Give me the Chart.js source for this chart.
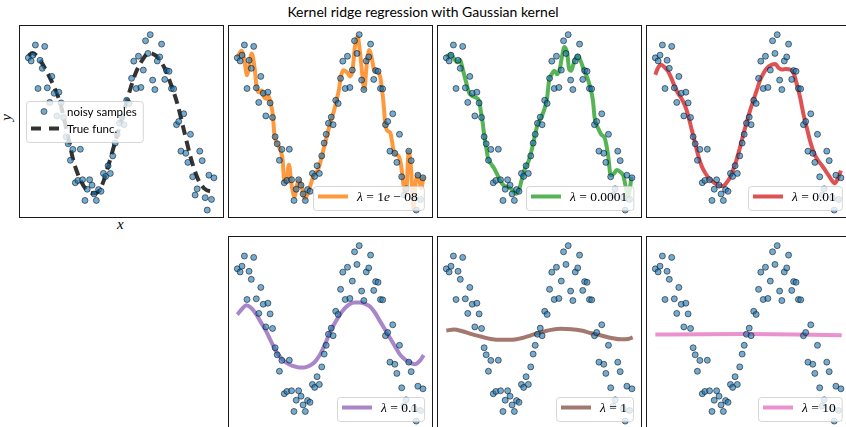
<!DOCTYPE html>
<html>
<head>
<meta charset="utf-8">
<script src="https://cdn.jsdelivr.net/npm/chart.js@4.4.1/dist/chart.umd.min.js"></script>
<style>
  html, body { margin: 0; padding: 0; background: #fff; }
  body { width: 846px; height: 427px; overflow: hidden; position: relative; font-family: Lato, sans-serif; }
  canvas { position: absolute; }
  #title { position: absolute; left: 0; top: 3px; width: 846px; text-align: center; font-size: 14px; color: #000; }
  .lab { position: absolute; font-family: "Liberation Serif", serif; font-style: italic; font-size: 15px; color: #000; }
</style>
</head>
<body>
<div id="title">Kernel ridge regression with Gaussian kernel</div>
<div class="lab" style="left:117px; top:216px;">x</div>
<div class="lab" style="left:3px; top:109px; transform: rotate(-90deg);">y</div>

<canvas id="p1" width="205" height="193" style="left:19px; top:25px;"></canvas>
<canvas id="p2" width="205" height="193" style="left:228px; top:25px;"></canvas>
<canvas id="p3" width="205" height="193" style="left:437px; top:25px;"></canvas>
<canvas id="p4" width="205" height="193" style="left:646px; top:25px;"></canvas>
<canvas id="p5" width="205" height="193" style="left:228px; top:236px;"></canvas>
<canvas id="p6" width="205" height="193" style="left:437px; top:236px;"></canvas>
<canvas id="p7" width="205" height="193" style="left:646px; top:236px;"></canvas>

<script>
// noisy samples (same in every panel)
const sampleX = [0, 1.5, 2.5, 3.8, 5.2, 6.3, 7.5, 8.8, 10.2, 11.5, 12.6, 13.9, 15.3, 16.4, 17.6, 18.9, 20.3, 21.4, 22.6, 23.9,
  25.2, 26.6, 27.9, 29.1, 30.4, 31.6, 32.9, 34.2, 35.3, 36.5, 37.7, 39.0, 40.3, 41.5, 42.8, 44.0, 45.3, 46.6, 47.7, 48.9,
  50.4, 51.4, 52.8, 54.1, 55.4, 56.6, 57.9, 59.1, 60.4, 61.7, 62.9, 64.2, 65.4, 66.7, 67.9, 69.2, 70.5, 71.5, 73.2, 74.2,
  75.5, 76.8, 78.0, 79.5, 80.7, 81.9, 83.4, 84.5, 85.6, 87.0, 88.2, 89.5, 90.6, 92.0, 93.3, 94.9, 96.0, 96.9, 98.3, 99.6];
const sampleY = [86.8, 85.0, 88.3, 94.1, 69.3, 85.4, 80.8, 93.3, 69.7, 61.4, 76.2, 66.6, 53.7, 67.2, 61.1, 52.8, 41.8, 37.8, 28.4, 34.6,
  15.6, 16.9, 34.7, 17.3, 5.5, 11.9, 17.3, 14.2, 9.2, 5.5, 11.7, 10.7, 20.9, 19.2, 25.3, 20.9, 30.9, 38.2, 43.2, 49.5,
  53.0, 48.7, 62.6, 60.8, 75.1, 84.9, 69.3, 87.7, 69.9, 79.8, 96.5, 89.3, 100, 74.1, 68.7, 85.0, 87.3, 94.6, 74.5, 79.5,
  79.1, 69.3, 69.1, 48.7, 50.5, 33.6, 54.9, 32.4, 27.2, 43.2, 19.0, 8.6, 12.1, 33.6, 28.2, 7.1, 0, 19.9, 6.1, 18.4];

// true function
const trueX = [0, 2.2, 6.3, 9.9, 13.5, 17.1, 21.6, 24.3, 27.9, 32.3, 36.0, 39.6, 43.1, 46.7, 50.4, 53.9, 57.5, 61.1, 64.7,
  69.2, 72.8, 76.4, 80.0, 83.6, 87.2, 90.8, 94.3, 99.7];
const trueY = [87.8, 89.6, 85.4, 78.9, 71.0, 61.0, 40.5, 27.8, 17.3, 10.5, 9.6, 14.4, 25.9, 39.3, 52.8, 66.2, 77.8, 85.4, 89.6,
  87.3, 81.6, 72.0, 60.5, 45.1, 29.7, 18.2, 12.4, 10.2];

// lambda = 1e-08
const fitAX = [0, 2.3, 3.8, 5.2, 6.3, 7.7, 9.2, 10.4, 11.7, 13.1, 14.4, 15.8, 16.7, 18.0, 19.0, 19.9, 21.2, 23.0, 24.3, 25.2,
  26.2, 27.7, 29.1, 30.7, 32.0, 33.2, 34.7, 36.1, 37.5, 39.4, 41.1, 43.3, 44.9, 46.7, 48.3, 49.9, 51.9, 53.4, 54.6, 55.5,
  57.0, 59.1, 60.6, 61.8, 63.1, 64.5, 65.9, 67.2, 68.1, 69.5, 70.8, 72.0, 73.5, 75.3, 76.7, 77.6, 78.5, 79.4, 80.7, 82.1,
  83.0, 83.9, 85.2, 86.6, 87.8, 89.3, 90.5, 92.0, 93.2, 94.5, 95.9, 97.2, 98.6, 100];
const fitAY = [86.9, 90.8, 85.4, 76.8, 81.6, 89.2, 81.6, 70.0, 67.2, 68.1, 64.3, 63.3, 65.3, 60.4, 54.7, 43.1, 38.4, 34.5, 28.7, 16.3,
  15.9, 25.9, 14.3, 7.7, 14.3, 17.2, 12.4, 6.7, 8.6, 14.7, 20.1, 23.0, 28.7, 36.5, 43.1, 49.9, 56.6, 63.3, 69.1, 75.8,
  79.7, 78.3, 76.2, 79.7, 93.1, 98.8, 89.2, 75.8, 69.1, 83.5, 91.2, 87.3, 79.7, 78.8, 75.8, 69.1, 60.4, 48.9, 45.1, 44.1,
  39.3, 33.6, 31.6, 30.7, 25.9, 13.4, 8.6, 33.6, 24.0, 0.9, 17.2, 20.1, 12.4, 19.2];

// lambda = 0.0001
const fitBX = [0, 2.3, 4.2, 5.9, 7.4, 8.6, 9.5, 10.9, 12.2, 14.0, 15.8, 17.6, 18.5, 19.4, 20.3, 21.2, 22.4, 23.9, 25.7, 27.5,
  29.3, 31.1, 33.2, 35.6, 37.4, 39.2, 40.4, 42.2, 44.0, 45.4, 47.2, 49.0, 50.8, 52.6, 54.1, 55.1, 56.6, 58.0, 59.5, 60.9,
  62.0, 63.4, 64.9, 65.9, 67.0, 68.3, 69.2, 70.6, 72.4, 73.9, 75.6, 77.5, 78.7, 79.6, 81.4, 83.2, 85.0, 86.8, 88.2, 90.0,
  91.4, 93.2, 95.0, 96.3, 97.6, 99.4];
const fitBY = [87.1, 89.0, 86.2, 84.2, 85.6, 81.3, 77.5, 71.8, 66.9, 65.0, 64.1, 62.2, 56.4, 50.6, 43.0, 37.2, 29.5, 26.6, 23.7, 19.9,
  16.1, 13.8, 13.2, 11.3, 9.3, 12.2, 17.1, 23.7, 27.6, 32.4, 41.0, 48.7, 52.5, 57.4, 64.1, 73.7, 77.5, 79.4, 77.5, 80.4,
  87.1, 92.9, 89.0, 80.4, 79.4, 83.6, 86.2, 88.1, 84.2, 79.4, 75.6, 68.9, 62.2, 52.5, 46.8, 43.0, 41.0, 31.4, 19.9, 20.9,
  22.8, 21.8, 19.5, 13.2, 8.0, 19.0];

// lambda = 0.01
const fitCX = [0, 1.4, 3.2, 5.0, 6.8, 8.6, 10.4, 12.2, 14.0, 15.8, 17.6, 19.4, 21.2, 23.0, 24.8, 26.6, 28.4, 30.2, 32.0, 34.7,
  36.5, 38.3, 40.1, 41.9, 43.7, 45.5, 47.3, 49.1, 50.9, 52.7, 54.5, 56.3, 58.1, 59.9, 62.6, 64.4, 66.2, 68.0, 70.1, 72.4,
  74.2, 76.0, 77.8, 79.6, 81.4, 83.2, 85.0, 86.8, 89.5, 91.3, 93.1, 94.9, 96.3, 97.8, 99.6];
const fitCY = [77.2, 81.0, 82.9, 81.4, 79.1, 75.2, 70.4, 66.6, 63.7, 59.9, 54.1, 46.4, 38.8, 31.1, 25.3, 21.5, 18.6, 16.7, 15.3, 13.8,
  13.8, 15.7, 18.6, 23.4, 29.1, 35.9, 43.5, 50.3, 57.0, 62.8, 68.5, 74.3, 78.1, 81.0, 82.9, 83.3, 81.0, 80.1, 80.4, 80.1,
  78.1, 71.4, 63.7, 54.1, 46.4, 38.8, 33.0, 29.1, 25.3, 22.5, 19.6, 16.7, 15.3, 17.6, 22.5];

// lambda = 0.1
const fitDX = [0, 2.7, 4.8, 7.2, 9.9, 12.6, 15.3, 17.9, 20.6, 23.3, 26.0, 29.6, 33.2, 35.9, 38.6, 41.3, 44.0, 46.7, 49.4, 52.1,
  54.8, 57.5, 60.2, 62.9, 65.6, 68.3, 71.0, 73.6, 76.3, 79.0, 81.7, 84.4, 87.1, 89.8, 92.5, 95.2, 97.9, 100];
const fitDY = [60.7, 64.1, 66.0, 64.7, 61.2, 56.4, 51.6, 45.9, 40.1, 36.2, 33.4, 31.5, 30.5, 30.5, 31.5, 33.4, 37.2, 43.0, 49.7, 55.5,
  60.3, 64.1, 66.6, 67.6, 67.6, 67.0, 65.4, 62.2, 57.4, 52.6, 47.8, 43.0, 38.2, 35.3, 33.4, 32.4, 34.3, 37.6];

// lambda = 1
const fitEX = [0, 4.1, 8.6, 13.1, 18.5, 23.9, 29.3, 34.7, 40.1, 45.4, 50.8, 56.2, 61.6, 67.0, 72.4, 77.8, 83.2, 88.6, 94.0, 97.6, 100];
const fitEY = [51.6, 52.2, 51.2, 49.7, 48.2, 46.8, 46.3, 46.3, 47.2, 48.9, 50.6, 52.0, 52.6, 52.4, 51.6, 50.1, 48.8, 47.4, 46.6, 46.8, 47.7];

// lambda = 10
const fitFX = [0, 25, 50, 75, 100];
const fitFY = [49.3, 49.5, 49.6, 49.4, 49.0];

const fonts = {
  sans: '11.5px Lato, sans-serif',
  it: 'italic 13.5px "Liberation Serif", serif',
  rm: '13.5px "Liberation Serif", serif',
};
const pointFill = 'rgba(31,119,180,0.62)';
const pointEdge = 'rgba(0,0,0,0.65)';

const roundRect = (ctx, x, y, w, h, r) => {
  ctx.beginPath();
  ctx.moveTo(x + r, y);
  ctx.lineTo(x + w - r, y);
  ctx.quadraticCurveTo(x + w, y, x + w, y + r);
  ctx.lineTo(x + w, y + h - r);
  ctx.quadraticCurveTo(x + w, y + h, x + w - r, y + h);
  ctx.lineTo(x + r, y + h);
  ctx.quadraticCurveTo(x, y + h, x, y + h - r);
  ctx.lineTo(x, y + r);
  ctx.quadraticCurveTo(x, y, x + r, y);
  ctx.closePath();
};

// legend box drawn inside the plot area, like matplotlib
const boxLegend = {
  id: 'boxLegend',
  afterDatasetsDraw(chart, args, opts) {
    const items = opts.items;
    if (!items || !items.length) return;
    const ctx = chart.ctx;
    const a = chart.chartArea;
    ctx.save();
    const widths = items.map((it) => it.text.reduce((w, p) => {
      ctx.font = fonts[p[1]];
      return w + ctx.measureText(p[0]).width;
    }, 0));
    const textOff = opts.textOff || 44;
    const w = textOff + Math.max(...widths) + 6;
    const h = 2 + items.length * 17 + 5;
    let x, y;
    if (opts.where === 'cl') {
      x = a.left + 7;
      y = Math.round(a.top + (a.height - h) / 2);
    } else {
      x = Math.round(a.right - 9 - w);
      y = a.bottom - 8 - h;
    }
    roundRect(ctx, x + 0.5, y + 0.5, w, h, 3);
    ctx.fillStyle = 'rgba(255,255,255,0.8)';
    ctx.fill();
    ctx.strokeStyle = 'rgba(204,204,204,0.8)';
    ctx.lineWidth = 1;
    ctx.stroke();
    items.forEach((it, i) => {
      const cy = y + 2 + 8.5 + i * 17;
      if (it.kind === 'point') {
        ctx.beginPath();
        ctx.arc(x + 18, cy, 3, 0, Math.PI * 2);
        ctx.fillStyle = pointFill;
        ctx.fill();
        ctx.strokeStyle = pointEdge;
        ctx.lineWidth = 0.8;
        ctx.stroke();
      } else {
        ctx.beginPath();
        ctx.setLineDash(it.dash || []);
        ctx.strokeStyle = it.color;
        ctx.lineWidth = 4;
        ctx.moveTo(x + 5, cy);
        ctx.lineTo(x + 35, cy);
        ctx.stroke();
        ctx.setLineDash([]);
      }
      let tx = x + textOff;
      ctx.fillStyle = '#000';
      ctx.textBaseline = 'middle';
      it.text.forEach((p) => {
        ctx.font = fonts[p[1]];
        ctx.fillText(p[0], tx, cy + 0.5);
        tx += ctx.measureText(p[0]).width;
      });
    });
    ctx.restore();
  },
};

// axes frame
const frame = {
  id: 'frame',
  afterDraw(chart) {
    const ctx = chart.ctx;
    const a = chart.chartArea;
    ctx.save();
    ctx.strokeStyle = '#1a1a1a';
    ctx.lineWidth = 1;
    ctx.strokeRect(a.left + 0.5, a.top + 0.5, a.width - 1, a.height - 1);
    ctx.restore();
  },
};

const toPoints = (xs, ys) => xs.map((x, i) => ({ x: x, y: ys[i] }));

const makePanel = (id, lineX, lineY, color, dash, legend) => {
  new Chart(document.getElementById(id), {
    type: 'scatter',
    data: {
      datasets: [
        {
          data: toPoints(sampleX, sampleY),
          backgroundColor: pointFill,
          borderColor: pointEdge,
          borderWidth: 0.8,
          pointRadius: 3,
          order: 0,
        },
        {
          data: toPoints(lineX, lineY),
          showLine: true,
          borderColor: color,
          borderWidth: 4,
          borderDash: dash,
          borderJoinStyle: 'round',
          cubicInterpolationMode: 'monotone',
          pointRadius: 0,
          order: 1,
        },
      ],
    },
    options: {
      responsive: false,
      devicePixelRatio: 1,
      animation: false,
      events: [],
      layout: { padding: 0, autoPadding: false },
      scales: {
        x: { type: 'linear', min: -5, max: 105, display: false },
        y: { type: 'linear', min: -4.5, max: 105.5, display: false },
      },
      plugins: {
        legend: { display: false },
        tooltip: { enabled: false },
        boxLegend: legend,
      },
    },
    plugins: [boxLegend, frame],
  });
};

const lam = (rest) => [['λ', 'it'], [' = ' + rest, 'rm']];

makePanel('p1', trueX, trueY, 'rgba(0,0,0,0.8)', [10, 6], {
  where: 'cl', textOff: 41,
  items: [
    { kind: 'point', text: [['noisy samples', 'sans']] },
    { kind: 'line', color: 'rgba(0,0,0,0.8)', dash: [10, 8], text: [['True func.', 'sans']] },
  ],
});
makePanel('p2', fitAX, fitAY, 'rgba(255,127,14,0.8)', [], {
  items: [{ kind: 'line', color: 'rgba(255,127,14,0.8)', text: [['λ', 'it'], [' = 1', 'rm'], ['e', 'it'], [' − 08', 'rm']] }],
});
makePanel('p3', fitBX, fitBY, 'rgba(44,160,44,0.8)', [], {
  items: [{ kind: 'line', color: 'rgba(44,160,44,0.8)', text: lam('0.0001') }],
});
makePanel('p4', fitCX, fitCY, 'rgba(214,39,40,0.8)', [], {
  items: [{ kind: 'line', color: 'rgba(214,39,40,0.8)', text: lam('0.01') }],
});
makePanel('p5', fitDX, fitDY, 'rgba(148,103,189,0.8)', [], {
  items: [{ kind: 'line', color: 'rgba(148,103,189,0.8)', text: lam('0.1') }],
});
makePanel('p6', fitEX, fitEY, 'rgba(140,86,75,0.8)', [], {
  items: [{ kind: 'line', color: 'rgba(140,86,75,0.8)', text: lam('1') }],
});
makePanel('p7', fitFX, fitFY, 'rgba(227,119,194,0.8)', [], {
  items: [{ kind: 'line', color: 'rgba(227,119,194,0.8)', text: lam('10') }],
});
</script>
</body>
</html>
